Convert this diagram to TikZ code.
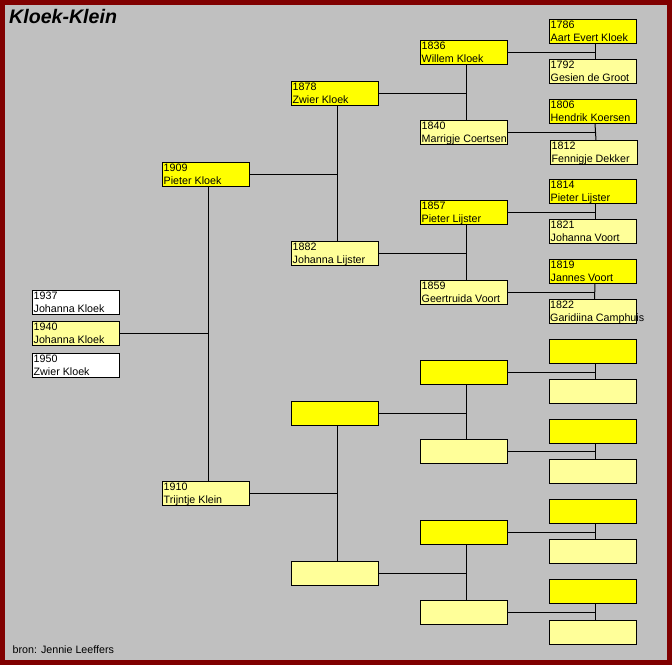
\documentclass[tikz,border=0pt]{standalone}
\usepackage{fontspec}
\setmainfont{Liberation Sans}
\definecolor{framecol}{HTML}{800000}
\definecolor{bgcol}{HTML}{C0C0C0}
\definecolor{malecol}{HTML}{FFFF00}
\definecolor{femcol}{HTML}{FFFF99}
\newcommand\pbox[5]{%
  \node[pbox,#2,anchor=north west] (#1) at (#3+0.5,#4+0.5) {};
  \node[ptext,anchor=north west] (#1t) at ([xshift=1bp,yshift=-1.2bp]#1.north west) {\rule{0pt}{8bp}#5};
}
\newcommand\ebox[4]{%
  \node[pbox,#2,anchor=north west] (#1) at (#3+0.5,#4+0.5) {};
}
\newcommand\famlink[3]{%
  \coordinate (#1v) at ([xshift=2bp]#1.south);
  \draw[link] (#1v) -- ([xshift=2bp]#2.north);
  \draw[link] (#3.east) -- (#3.east -| #1v);
}
\begin{document}
\begin{tikzpicture}[x=1bp,y=-1bp,
  pbox/.style={draw=black,line width=1bp,minimum width=87bp,minimum height=24bp,inner sep=0pt,outer sep=0pt},
  sm/.style={fill=malecol}, sf/.style={fill=femcol}, sw/.style={fill=white},
  ptext/.style={inner sep=0pt,align=left,font=\fontsize{10.7bp}{12.7bp}\selectfont},
  link/.style={draw=black,line width=1bp}]
\fill[framecol] (0,0) rectangle (672,665);
\fill[bgcol] (5,5) rectangle (667,660);
\useasboundingbox (0,0) rectangle (672,665);
\node[font=\fontsize{19.6bp}{22bp}\selectfont\bfseries\itshape,anchor=base west,inner sep=0pt] (title) at (9,24) {Kloek-Klein};
\node[font=\fontsize{10.7bp}{12.7bp}\selectfont,anchor=base west,inner sep=0pt] (source) at (12.5,653.5) {bron: Jennie Leeffers};
% children
\pbox{c1937}{sw}{32}{290}{1937\\Johanna Kloek}
\pbox{c1940}{sf}{32}{321}{1940\\Johanna Kloek}
\pbox{c1950}{sw}{32}{353}{1950\\Zwier Kloek}
% generation 1
\pbox{p1909}{sm}{162}{162}{1909\\Pieter Kloek}
\pbox{p1910}{sf}{162}{481}{1910\\Trijntje Klein}
% generation 2
\pbox{g2a}{sm}{291}{81}{1878\\Zwier Kloek}
\pbox{g2b}{sf}{291}{241}{1882\\Johanna Lijster}
\ebox{g2c}{sm}{291}{401}
\ebox{g2d}{sf}{291}{561}
% generation 3
\pbox{g3a}{sm}{420}{40}{1836\\Willem Kloek}
\pbox{g3b}{sf}{420}{120}{1840\\Marrigje Coertsen}
\pbox{g3c}{sm}{420}{200}{1857\\Pieter Lijster}
\pbox{g3d}{sf}{420}{280}{1859\\Geertruida Voort}
\ebox{g3e}{sm}{420}{360}
\ebox{g3f}{sf}{420}{439}
\ebox{g3g}{sm}{420}{520}
\ebox{g3h}{sf}{420}{600}
% generation 4
\pbox{g4a}{sm}{549}{19}{1786\\Aart Evert Kloek}
\pbox{g4b}{sf}{549}{59}{1792\\Gesien de Groot}
\pbox{g4c}{sm}{549}{99}{1806\\Hendrik Koersen}
\pbox{g4d}{sf}{550}{140}{1812\\Fennigje Dekker}
\pbox{g4e}{sm}{549}{179}{1814\\Pieter Lijster}
\pbox{g4f}{sf}{549}{219}{1821\\Johanna Voort}
\pbox{g4g}{sm}{549}{259}{1819\\Jannes Voort}
\pbox{g4h}{sf}{548.5}{299}{1822\\Garidiina Camphuis}
\ebox{g4i}{sm}{549}{339}
\ebox{g4j}{sf}{549}{379}
\ebox{g4k}{sm}{549}{419}
\ebox{g4l}{sf}{549}{459}
\ebox{g4m}{sm}{549}{499}
\ebox{g4n}{sf}{549}{539}
\ebox{g4o}{sm}{549}{579}
\ebox{g4p}{sf}{549}{620}
% links
\famlink{p1909}{p1910}{c1940}
\famlink{g2a}{g2b}{p1909}
\famlink{g2c}{g2d}{p1910}
\famlink{g3a}{g3b}{g2a}
\famlink{g3c}{g3d}{g2b}
\famlink{g3e}{g3f}{g2c}
\famlink{g3g}{g3h}{g2d}
\famlink{g4a}{g4b}{g3a}
\famlink{g4c}{g4d}{g3b}
\famlink{g4e}{g4f}{g3c}
\famlink{g4g}{g4h}{g3d}
\famlink{g4i}{g4j}{g3e}
\famlink{g4k}{g4l}{g3f}
\famlink{g4m}{g4n}{g3g}
\famlink{g4o}{g4p}{g3h}
\end{tikzpicture}
\end{document}
